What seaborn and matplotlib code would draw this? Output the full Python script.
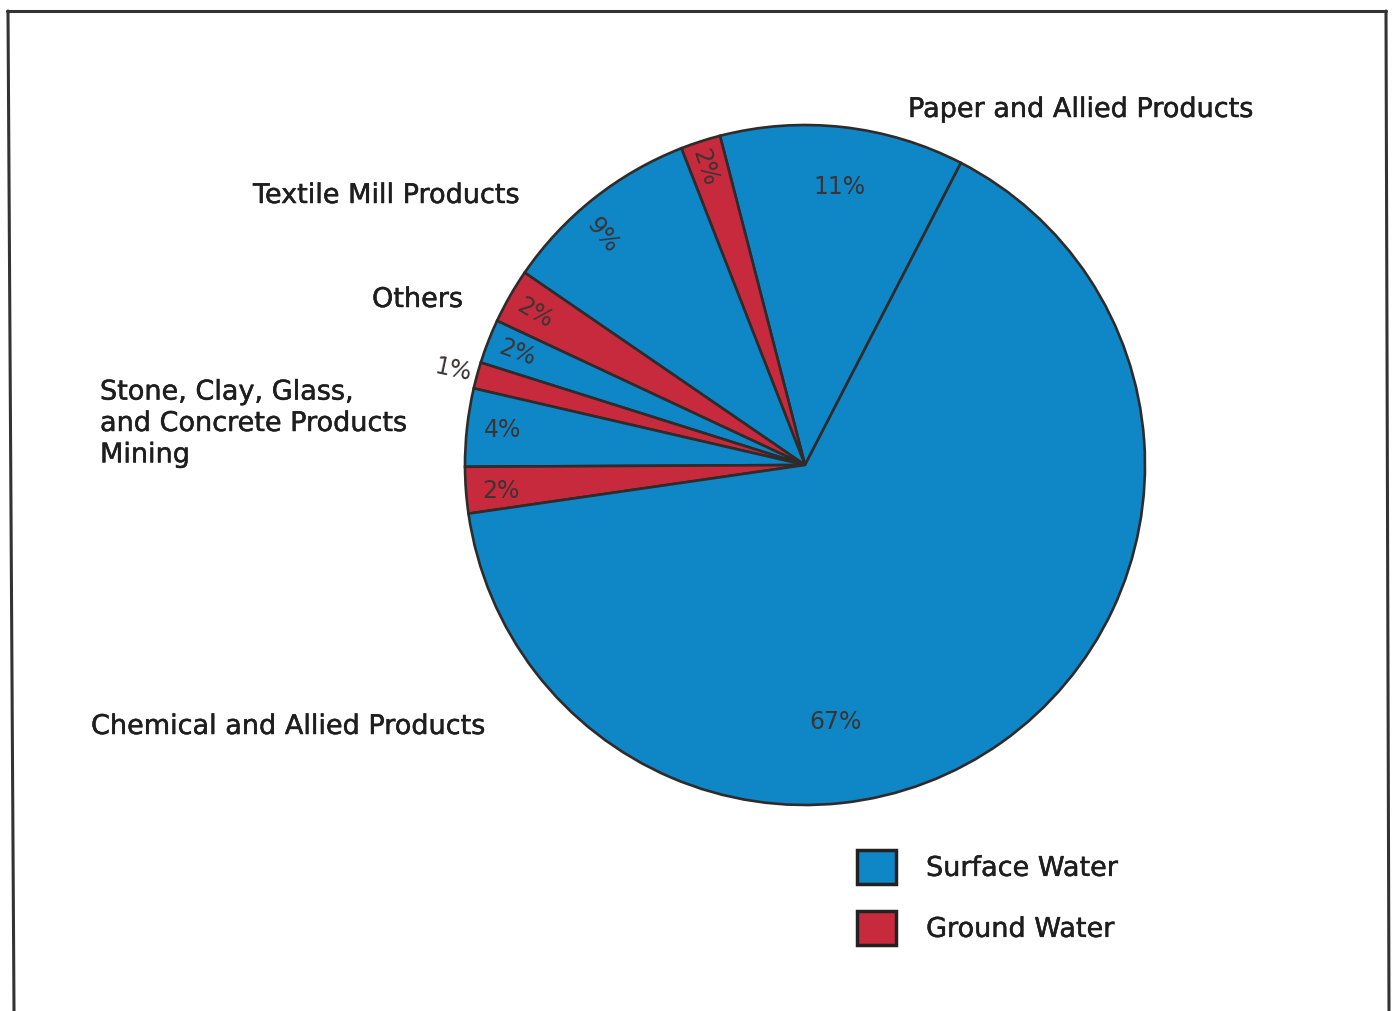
import matplotlib
matplotlib.use("Agg")
import matplotlib.pyplot as plt
import matplotlib.patheffects as pe
from matplotlib.patches import Patch
from matplotlib.lines import Line2D
import seaborn as sns

# wedges counter-clockwise, starting at the Paper / Chemical boundary
industry = ["Paper", "Paper", "Textile", "Others", "Others",
            "Stone", "Stone", "Mining", "Chemical"]
source = ["Surface", "Ground", "Surface", "Ground", "Surface",
          "Ground", "Surface", "Ground", "Surface"]
share = [11.6, 1.9, 9.5, 2.6, 2.1, 1.25, 3.7, 2.2, 65.1]
pct_text = ["11%", "2%", "9%", "2%", "2%", "1%", "4%", "2%", "67%"]

group_labels = ["Paper and Allied Products", "Textile Mill Products", "Others",
                "Stone, Clay, Glass,\nand Concrete Products\nMining",
                "Chemical and Allied Products"]

colors = {"Surface": "#0f86c6", "Ground": "#c72a3c"}
edge = "#2f2b2b"

sns.set_theme(style="white")
plt.rcParams["font.family"] = ["DejaVu Sans"]

W, H = 1394, 1011
fig = plt.figure(figsize=(W / 100, H / 100), dpi=100)
ax = fig.add_axes([0, 0, 1, 1])

cx, cy, r = 805, H - 465, 340
wedges, _ = ax.pie(share, colors=[colors[s] for s in source],
                   startangle=62.7, counterclock=True, center=(cx, cy),
                   radius=r, frame=True,
                   wedgeprops=dict(edgecolor=edge, linewidth=1.9))
ax.set_xlim(0, W)
ax.set_ylim(0, H)
ax.set_aspect("equal")
ax.axis("off")

bold_ish = [pe.withStroke(linewidth=0.35, foreground="#1e1e1e")]

# percent labels inside the wedges
pct_pos = [(839, 187, 0), (705, 168, -72), (603, 235, -52), (535, 313, -30),
           (517, 353, -20), (453, 370, -12), (503, 430, 0), (501, 491, 0),
           (836, 722, 0)]
for t, (x, y, rot) in zip(pct_text, pct_pos):
    ax.text(x, H - y, t, fontsize=17, color="#3b3434", rotation=rot,
            ha="center", va="center")

# category labels
lab_pos = [(908, 110), (253, 196), (372, 300), (100, 424), (91, 727)]
for t, (x, y) in zip(group_labels, lab_pos):
    ax.text(x, H - y, t, fontsize=19.5, color="#1e1e1e", ha="left", va="center",
            linespacing=1.27, path_effects=bold_ish)

handles = [Patch(facecolor=colors["Surface"], edgecolor="#222222", linewidth=2.5),
           Patch(facecolor=colors["Ground"], edgecolor="#222222", linewidth=2.5)]
leg = ax.legend(handles, ["Surface Water", "Ground Water"], loc="upper left",
                bbox_to_anchor=(857 / W, 1 - 850 / H), frameon=False,
                fontsize=19.5, handlelength=1.45, handleheight=1.55,
                handletextpad=1.1, labelspacing=1.0, borderpad=0,
                borderaxespad=0)
for txt in leg.get_texts():
    txt.set_color("#1e1e1e")
    txt.set_path_effects(bold_ish)

# scanned page frame
for xs, ys in [((7, 1386), (11, 11)), ((8, 14), (11, H)), ((1386, 1389), (11, H))]:
    fig.add_artist(Line2D([x / W for x in xs], [1 - y / H for y in ys],
                          color="#333333", linewidth=2.2))

fig.savefig("out.png", dpi=100, facecolor="white")
